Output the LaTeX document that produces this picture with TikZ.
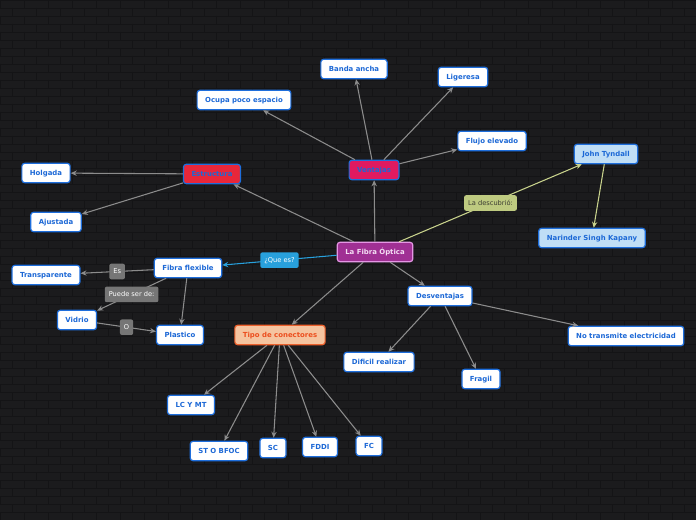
\documentclass[tikz,border=0pt]{standalone}
\usepackage{fontspec}
\setmainfont{DejaVu Sans}
\usepackage{tikz}
\usetikzlibrary{arrows.meta}

\definecolor{bgdark}{RGB}{27,27,29}
\definecolor{brickline}{RGB}{20,20,22}
\definecolor{txtblue}{RGB}{28,104,214}
\definecolor{bordblue}{RGB}{30,110,220}
\definecolor{edgegray}{RGB}{140,140,140}
\definecolor{labgray}{RGB}{118,118,118}
\definecolor{mainfill}{RGB}{160,48,148}
\definecolor{mainbord}{RGB}{228,150,228}
\definecolor{maintxt}{RGB}{244,222,244}
\definecolor{ventfill}{RGB}{224,26,96}
\definecolor{estrfill}{RGB}{232,38,58}
\definecolor{conefill}{RGB}{245,196,160}
\definecolor{conebord}{RGB}{236,96,44}
\definecolor{conetxt}{RGB}{236,78,30}
\definecolor{lightblue}{RGB}{192,222,246}
\definecolor{olive}{RGB}{200,210,140}
\definecolor{olivelab}{RGB}{190,202,128}
\definecolor{olivetxt}{RGB}{60,60,50}
\definecolor{skyblue}{RGB}{40,160,220}

\tikzset{
  topic/.style={draw=bordblue, line width=0.9pt, fill=white, text=txtblue,
    rounded corners=2pt, inner xsep=6pt, minimum height=14.5pt,
    text height=4.4pt, text depth=0.8pt,
    font=\fontsize{5.2}{6}\selectfont\bfseries},
  lbl/.style={fill=labgray, text=white, rounded corners=1.5pt, inner xsep=3pt,
    minimum height=11pt, text height=4.2pt, text depth=0.8pt,
    font=\fontsize{5}{6}\selectfont},
  edge/.style={->, draw=edgegray, line width=0.8pt}
}

\begin{document}
\begin{tikzpicture}[x=0.75pt, y=-0.75pt, >={Stealth[length=4.5pt, width=4pt]}]
  \useasboundingbox (0,0) rectangle (696,520);

  % brick background
  \fill[bgdark] (0,0) rectangle (696,520);
  \foreach \r in {0,...,65} {
    \draw[brickline, line width=0.5pt] (0,\r*8) -- (696,\r*8);
    \pgfmathsetmacro{\off}{mod(\r,2)*12}
    \foreach \k in {0,...,29}
      \draw[brickline, line width=0.5pt] (\off+\k*24,\r*8) -- ++(0,8);
  }

  % central topic
  \node[topic, draw=mainbord, fill=mainfill, text=maintxt] (fibra) at (375,252) {La Fibra Óptica};

  % main branches
  \node[topic, fill=ventfill] (ventajas) at (374,170) {Ventajas};
  \node[topic, fill=estrfill] (estructura) at (212,174) {Estructura};
  \node[topic] (flex) at (188,268) {Fibra flexible};
  \node[topic, draw=conebord, fill=conefill, text=conetxt] (tipo) at (280,335) {Tipo de conectores};
  \node[topic] (desv) at (440,296) {Desventajas};
  \node[topic, fill=lightblue] (john) at (606,154) {John Tyndall};
  \node[topic, fill=lightblue] (kapany) at (592,238) {Narinder Singh Kapany};

  % ventajas
  \node[topic] (ocupa) at (244,100) {Ocupa poco espacio};
  \node[topic] (banda) at (354,69) {Banda ancha};
  \node[topic] (liger) at (463,77) {Ligeresa};
  \node[topic] (flujo) at (492,141) {Flujo elevado};

  % estructura
  \node[topic] (holg) at (46,173) {Holgada};
  \node[topic] (ajus) at (56,222) {Ajustada};

  % fibra flexible
  \node[topic] (transp) at (46,275) {Transparente};
  \node[topic] (vidrio) at (77,320) {Vidrio};
  \node[topic] (plast) at (180,335) {Plastico};

  % conectores
  \node[topic] (lcmt) at (191,405) {LC Y MT};
  \node[topic] (stbfoc) at (219,451) {ST O BFOC};
  \node[topic] (sc) at (273,448) {SC};
  \node[topic] (fddi) at (320,447) {FDDI};
  \node[topic] (fc) at (369,446) {FC};

  % desventajas
  \node[topic] (dific) at (379,362) {Dificil realizar};
  \node[topic] (fragil) at (481,379) {Fragil};
  \node[topic] (notrans) at (626,336) {No transmite electricidad};

  % connectors from the central topic
  \draw[edge] (fibra) -- (ventajas);
  \draw[edge] (fibra) -- (estructura);
  \draw[edge] (fibra) -- (tipo);
  \draw[edge] (fibra) -- (desv);
  \draw[edge, draw=skyblue] (fibra) -- node[lbl, fill=skyblue] {¿Que es?} (flex);
  \draw[edge, draw=olive] (fibra) -- node[lbl, fill=olivelab, text=olivetxt] {La descubrió:} (john);
  \draw[edge, draw=olive] (john) -- (kapany);

  % ventajas
  \foreach \t in {ocupa, banda, liger, flujo}
    \draw[edge] (ventajas) -- (\t);

  % estructura
  \draw[edge] (estructura) -- (holg);
  \draw[edge] (estructura) -- (ajus);

  % fibra flexible
  \draw[edge] (flex) -- node[lbl] {Es} (transp);
  \draw[edge] (flex) -- node[lbl] {Puede ser de:} (vidrio);
  \draw[edge] (flex) -- (plast);
  \draw[edge] (vidrio) -- node[lbl] {O} (plast);

  % conectores
  \foreach \t in {lcmt, stbfoc, sc, fddi, fc}
    \draw[edge] (tipo) -- (\t);

  % desventajas
  \foreach \t in {dific, fragil, notrans}
    \draw[edge] (desv) -- (\t);
\end{tikzpicture}
\end{document}
